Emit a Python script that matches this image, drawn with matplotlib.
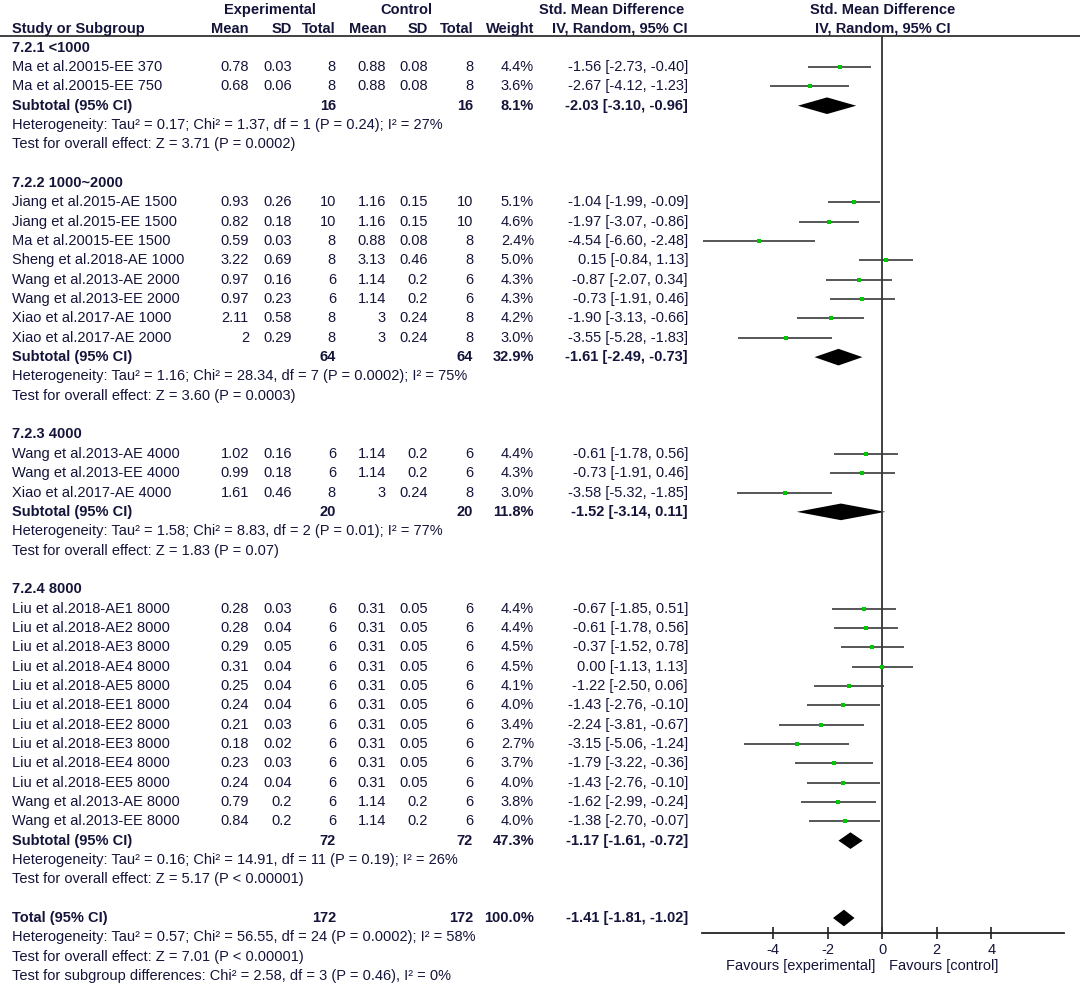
import matplotlib
matplotlib.use("Agg")
import matplotlib.pyplot as plt

plt.rcParams["font.family"] = ["Liberation Sans Narrow", "Liberation Sans", "DejaVu Sans"]
plt.rcParams["axes.unicode_minus"] = False

# --- data

groups = ["7.2.1 <1000", "7.2.2 1000~2000", "7.2.3 4000", "7.2.4 8000"]

study = [
    "Ma et al.20015-EE 370", "Ma et al.20015-EE 750",
    "Jiang et al.2015-AE 1500", "Jiang et al.2015-EE 1500", "Ma et al.20015-EE 1500",
    "Sheng et al.2018-AE 1000", "Wang et al.2013-AE 2000", "Wang et al.2013-EE 2000",
    "Xiao et al.2017-AE 1000", "Xiao et al.2017-AE 2000",
    "Wang et al.2013-AE 4000", "Wang et al.2013-EE 4000", "Xiao et al.2017-AE 4000",
    "Liu et al.2018-AE1 8000", "Liu et al.2018-AE2 8000", "Liu et al.2018-AE3 8000",
    "Liu et al.2018-AE4 8000", "Liu et al.2018-AE5 8000", "Liu et al.2018-EE1 8000",
    "Liu et al.2018-EE2 8000", "Liu et al.2018-EE3 8000", "Liu et al.2018-EE4 8000",
    "Liu et al.2018-EE5 8000", "Wang et al.2013-AE 8000", "Wang et al.2013-EE 8000",
]
group_of = [0, 0] + [1] * 8 + [2] * 3 + [3] * 12

exp_mean = [0.78, 0.68, 0.93, 0.82, 0.59, 3.22, 0.97, 0.97, 2.11, 2, 1.02, 0.99, 1.61,
            0.28, 0.28, 0.29, 0.31, 0.25, 0.24, 0.21, 0.18, 0.23, 0.24, 0.79, 0.84]
exp_sd = [0.03, 0.06, 0.26, 0.18, 0.03, 0.69, 0.16, 0.23, 0.58, 0.29, 0.16, 0.18, 0.46,
          0.03, 0.04, 0.05, 0.04, 0.04, 0.04, 0.03, 0.02, 0.03, 0.04, 0.2, 0.2]
exp_n = [8, 8, 10, 10, 8, 8, 6, 6, 8, 8, 6, 6, 8, 6, 6, 6, 6, 6, 6, 6, 6, 6, 6, 6, 6]
ctl_mean = [0.88, 0.88, 1.16, 1.16, 0.88, 3.13, 1.14, 1.14, 3, 3, 1.14, 1.14, 3,
            0.31, 0.31, 0.31, 0.31, 0.31, 0.31, 0.31, 0.31, 0.31, 0.31, 1.14, 1.14]
ctl_sd = [0.08, 0.08, 0.15, 0.15, 0.08, 0.46, 0.2, 0.2, 0.24, 0.24, 0.2, 0.2, 0.24,
          0.05, 0.05, 0.05, 0.05, 0.05, 0.05, 0.05, 0.05, 0.05, 0.05, 0.2, 0.2]
ctl_n = [8, 8, 10, 10, 8, 8, 6, 6, 8, 8, 6, 6, 8, 6, 6, 6, 6, 6, 6, 6, 6, 6, 6, 6, 6]
weight = [4.4, 3.6, 5.1, 4.6, 2.4, 5.0, 4.3, 4.3, 4.2, 3.0, 4.4, 4.3, 3.0,
          4.4, 4.4, 4.5, 4.5, 4.1, 4.0, 3.4, 2.7, 3.7, 4.0, 3.8, 4.0]
smd = [-1.56, -2.67, -1.04, -1.97, -4.54, 0.15, -0.87, -0.73, -1.90, -3.55, -0.61, -0.73, -3.58,
       -0.67, -0.61, -0.37, 0.00, -1.22, -1.43, -2.24, -3.15, -1.79, -1.43, -1.62, -1.38]
ci_lo = [-2.73, -4.12, -1.99, -3.07, -6.60, -0.84, -2.07, -1.91, -3.13, -5.28, -1.78, -1.91, -5.32,
         -1.85, -1.78, -1.52, -1.13, -2.50, -2.76, -3.81, -5.06, -3.22, -2.76, -2.99, -2.70]
ci_hi = [-0.40, -1.23, -0.09, -0.86, -2.48, 1.13, 0.34, 0.46, -0.66, -1.83, 0.56, 0.46, -1.85,
         0.51, 0.56, 0.78, 1.13, 0.06, -0.10, -0.67, -1.24, -0.36, -0.10, -0.24, -0.07]

sub_n = [16, 64, 20, 72]
sub_weight = [8.1, 32.9, 11.8, 47.3]
sub_smd = [-2.03, -1.61, -1.52, -1.17]
sub_lo = [-3.10, -2.49, -3.14, -1.61]
sub_hi = [-0.96, -0.73, 0.11, -0.72]
sub_het = [
    "Heterogeneity: Tau² = 0.17; Chi² = 1.37, df = 1 (P = 0.24); I² = 27%",
    "Heterogeneity: Tau² = 1.16; Chi² = 28.34, df = 7 (P = 0.0002); I² = 75%",
    "Heterogeneity: Tau² = 1.58; Chi² = 8.83, df = 2 (P = 0.01); I² = 77%",
    "Heterogeneity: Tau² = 0.16; Chi² = 14.91, df = 11 (P = 0.19); I² = 26%",
]
sub_test = [
    "Test for overall effect: Z = 3.71 (P = 0.0002)",
    "Test for overall effect: Z = 3.60 (P = 0.0003)",
    "Test for overall effect: Z = 1.83 (P = 0.07)",
    "Test for overall effect: Z = 5.17 (P < 0.00001)",
]

total_n = 172
total_weight = 100.0
total_smd, total_lo, total_hi = -1.41, -1.81, -1.02
total_notes = [
    "Heterogeneity: Tau² = 0.57; Chi² = 56.55, df = 24 (P = 0.0002); I² = 58%",
    "Test for overall effect: Z = 7.01 (P < 0.00001)",
    "Test for subgroup differences: Chi² = 2.58, df = 3 (P = 0.46), I² = 0%",
]

ticks = [-4, -2, 0, 2, 4]

# --- layout (pixels of a 1080 x 986 canvas)
W, H = 1080, 986
Y0, DY = 47.7, 19.34          # first row centre and row pitch

def row(px):
    return (px - Y0) / DY

TXT = "#14143a"
FS = 10.5
X_NAME = 12
X_EM, X_ESD, X_EN = 249, 292, 336
X_CM, X_CSD, X_CN = 386, 428, 473
X_W, X_CI = 534, 688

fig = plt.figure(figsize=(W / 100, H / 100), dpi=100)
ax = fig.add_axes([0, 0, 1, 1])
ax.set_xlim(0, W)
ax.set_ylim(row(H), row(0))
ax.axis("off")

def put(x, k, s, ha="right", bold=False):
    ax.text(x, k, s, ha=ha, va="center", fontsize=FS, color=TXT,
            weight="bold" if bold else "normal")

# header
put(270, -1.95, "Experimental", ha="center", bold=True)
put(406, -1.95, "Control", ha="center", bold=True)
put(612, -1.95, "Std. Mean Difference", ha="center", bold=True)
put(883, -1.95, "Std. Mean Difference", ha="center", bold=True)
put(X_NAME, -0.97, "Study or Subgroup", ha="left", bold=True)
for x, s in zip([X_EM, X_ESD, X_EN, X_CM, X_CSD, X_CN, X_W],
                ["Mean", "SD", "Total", "Mean", "SD", "Total", "Weight"]):
    put(x, -0.97, s, bold=True)
put(X_CI, -0.97, "IV, Random, 95% CI", bold=True)
put(883, -0.97, "IV, Random, 95% CI", ha="center", bold=True)
ax.axhline(row(36), color="#333333", lw=1.3)

# forest panel
fax = fig.add_axes([702 / W, 1 - 933 / H, (1064 - 702) / W, (933 - 36) / H])
fax.patch.set_visible(False)
fax.set_xlim(-6.62, 6.67)
fax.set_ylim(row(933), row(36))
for sp in ["top", "right", "left"]:
    fax.spines[sp].set_visible(False)
fax.spines["bottom"].set_color("#222222")
fax.spines["bottom"].set_linewidth(1.3)
fax.set_yticks([])
fax.set_xticks(ticks)
fax.tick_params(axis="x", direction="inout", length=8, width=1.2, colors="#222222",
                labelsize=FS, labelcolor=TXT, pad=3)
fax.axvline(0, color="#333333", lw=1.3)

def diamond(k, est, lo, hi):
    fax.fill([lo, est, hi, est], [k, k - 0.43, k, k + 0.43], color="black", lw=0)

k = 0
for g, gname in enumerate(groups):
    put(X_NAME, k, gname, ha="left", bold=True)
    k += 1
    for i in [j for j, gg in enumerate(group_of) if gg == g]:
        put(X_NAME, k, study[i], ha="left")
        put(X_EM, k, f"{exp_mean[i]:g}")
        put(X_ESD, k, f"{exp_sd[i]:g}")
        put(X_EN, k, f"{exp_n[i]}")
        put(X_CM, k, f"{ctl_mean[i]:g}")
        put(X_CSD, k, f"{ctl_sd[i]:g}")
        put(X_CN, k, f"{ctl_n[i]}")
        put(X_W, k, f"{weight[i]:.1f}%")
        put(X_CI, k, f"{smd[i]:.2f} [{ci_lo[i]:.2f}, {ci_hi[i]:.2f}]")
        fax.hlines(k, ci_lo[i], ci_hi[i], color="#3a3a3a", lw=1.2)
        fax.plot(smd[i], k, "s", color="#00c800", ms=2.6 + 0.15 * weight[i], mew=0)
        k += 1
    put(X_NAME, k, "Subtotal (95% CI)", ha="left", bold=True)
    put(X_EN, k, f"{sub_n[g]}", bold=True)
    put(X_CN, k, f"{sub_n[g]}", bold=True)
    put(X_W, k, f"{sub_weight[g]:.1f}%", bold=True)
    put(X_CI, k, f"{sub_smd[g]:.2f} [{sub_lo[g]:.2f}, {sub_hi[g]:.2f}]", bold=True)
    diamond(k, sub_smd[g], sub_lo[g], sub_hi[g])
    k += 1
    put(X_NAME, k, sub_het[g], ha="left")
    k += 1
    put(X_NAME, k, sub_test[g], ha="left")
    k += 2

put(X_NAME, k, "Total (95% CI)", ha="left", bold=True)
put(X_EN, k, f"{total_n}", bold=True)
put(X_CN, k, f"{total_n}", bold=True)
put(X_W, k, f"{total_weight:.1f}%", bold=True)
put(X_CI, k, f"{total_smd:.2f} [{total_lo:.2f}, {total_hi:.2f}]", bold=True)
diamond(k, total_smd, total_lo, total_hi)
for note in total_notes:
    k += 1
    put(X_NAME, k, note, ha="left")

put(875, row(966), "Favours [experimental]")
put(889, row(966), "Favours [control]", ha="left")

plt.savefig("out.png", dpi=100, facecolor="white")
